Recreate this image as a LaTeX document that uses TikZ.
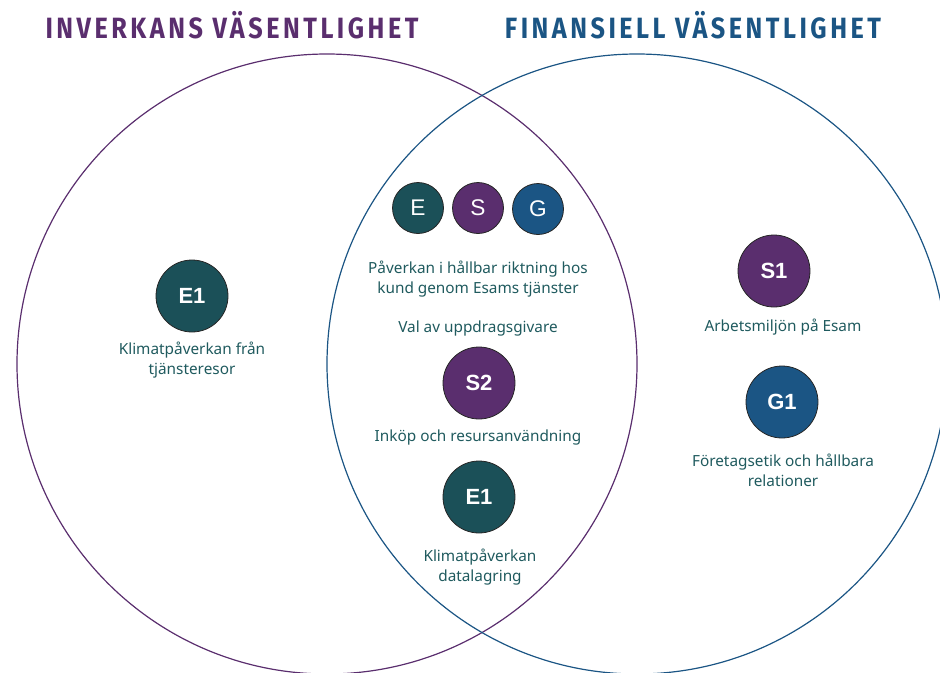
\documentclass[tikz,border=0pt]{standalone}
\usepackage{fontspec}
\setmainfont{Noto Sans}
\newfontfamily\titlefont[FakeStretch=0.86,LetterSpace=12]{Fira Sans}
\newfontfamily\badgefont{Liberation Sans}
\definecolor{cpurple}{HTML}{5A2E6E}
\definecolor{cblue}{HTML}{1B5584}
\definecolor{cteal}{HTML}{1B5058}
\definecolor{ctext}{HTML}{1F5A5E}
\begin{document}
\begin{tikzpicture}[x=0.75pt,y=-0.75pt,
  bigcircle/.style={circle,line width=0.9pt,minimum size=#1*1.5pt,inner sep=0pt},
  badge/.style={circle,draw=black!85,line width=0.6pt,minimum size=#1*1.5pt,inner sep=0pt,text=white},
  bigbadge/.style={badge=36,font=\badgefont\fontsize{16.5}{18}\selectfont\bfseries},
  smallbadge/.style={badge=25.5,font=\badgefont\fontsize{17}{18}\selectfont},
  lbl/.style={text=ctext,font=\fontsize{11.5}{15}\selectfont,align=center,inner sep=0pt},
  ttl/.style={font=\titlefont\fontsize{22}{24}\selectfont\bfseries,inner sep=0pt}]
\useasboundingbox (0,0) rectangle (940,672);
\begin{scope}
\clip (0,0) rectangle (940,672);
\node[bigcircle=310,draw=cpurple] (left) at (327,364) {};
\node[bigcircle=310,draw=cblue] (right) at (637,364) {};
\end{scope}
\node[ttl,text=cpurple] (t1) at (232,25) {INVERKANS VÄSENTLIGHET};
\node[ttl,text=cblue] (t2) at (693,25) {FINANSIELL VÄSENTLIGHET};
% left
\node[bigbadge,fill=cteal] (e1a) at (192,296) {E1};
\node[lbl] (l1) at (192,360) {Klimatpåverkan från\\tjänsteresor};
% middle
\node[smallbadge,fill=cteal] (e) at (418,208) {E};
\node[smallbadge,fill=cpurple] (s) at (478,208) {S};
\node[smallbadge,fill=cblue] (g) at (538,209) {G};
\node[lbl] (l2) at (478,279) {Påverkan i hållbar riktning hos\\kund genom Esams tjänster};
\node[lbl] (l3) at (478,329) {Val av uppdragsgivare};
\node[bigbadge,fill=cpurple] (s2) at (479,383) {S2};
\node[lbl] (l4) at (478,438) {Inköp och resursanvändning};
\node[bigbadge,fill=cteal] (e1b) at (479,497) {E1};
\node[lbl] (l5) at (480,567) {Klimatpåverkan\\datalagring};
% right
\node[bigbadge,fill=cpurple] (s1) at (774,271) {S1};
\node[lbl] (l6) at (783,327) {Arbetsmiljön på Esam};
\node[bigbadge,fill=cblue] (g1) at (782,402) {G1};
\node[lbl] (l7) at (783,470) {Företagsetik och hållbara\\relationer};
\end{tikzpicture}
\end{document}
